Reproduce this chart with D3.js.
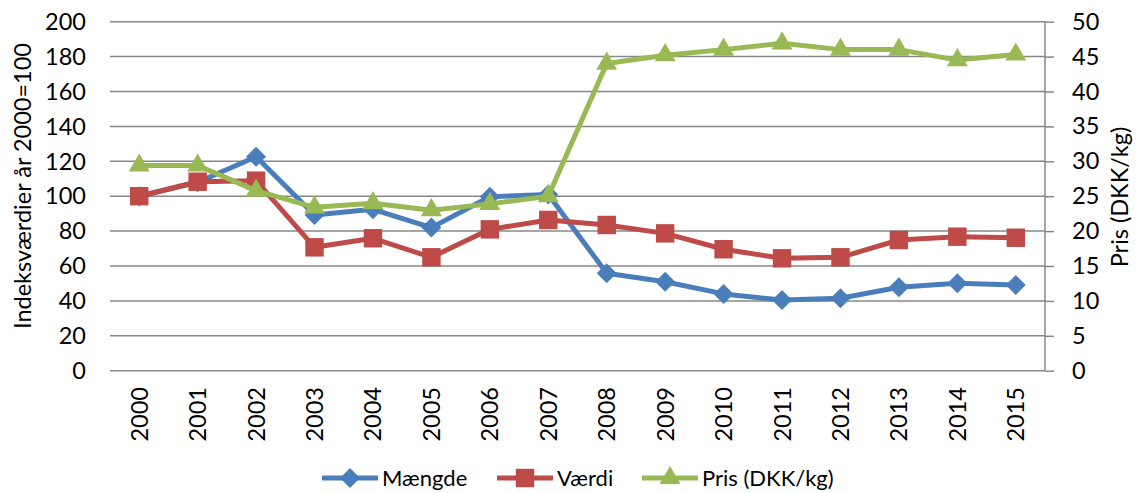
<!DOCTYPE html>
<html>
<head>
<meta charset="utf-8">
<script src="https://d3js.org/d3.v7.min.js"></script>
<style>
  body { margin: 0; background: #fff; }
  text { font-family: Lato, Carlito, Calibri, sans-serif; fill: #000; }
</style>
</head>
<body>
<svg id="chart" width="1137" height="493"></svg>
<script>
// data
const years = ["2000","2001","2002","2003","2004","2005","2006","2007","2008","2009","2010","2011","2012","2013","2014","2015"];
const maengde = [100, 108, 122.6, 89.2, 92.5, 82, 99.7, 101, 55.8, 51, 44, 40.5, 41.5, 47.8, 50.1, 49.1];
const vaerdi = [100, 108.3, 108.9, 70.7, 75.9, 65, 81, 86.4, 83.5, 78.7, 69.6, 64.4, 65, 74.9, 76.8, 76.2];
const pris = [29.4, 29.4, 25.8, 23.4, 24.0, 23.0, 23.9, 25.0, 44.0, 45.2, 46.0, 46.9, 46.0, 46.0, 44.5, 45.3];
const leftTicks = [0, 20, 40, 60, 80, 100, 120, 140, 160, 180, 200];
const rightTicks = [0, 5, 10, 15, 20, 25, 30, 35, 40, 45, 50];

const svg = d3.select("#chart");
const plotL = 110, plotR = 1045, plotT = 21.7, plotB = 370.7;
const fs = 23.5;

const x = d3.scaleBand().domain(years).range([plotL, plotR]);
const yL = d3.scaleLinear().domain([0, 200]).range([plotB, plotT]);
const yR = d3.scaleLinear().domain([0, 50]).range([plotB, plotT]);

// gridlines
svg.append("g").selectAll("line").data(leftTicks).enter().append("line")
    .attr("x1", plotL).attr("x2", plotR)
    .attr("y1", d => yL(d)).attr("y2", d => yL(d))
    .attr("stroke", "#878787").attr("stroke-width", 1.5);

// left tick labels
svg.append("g").selectAll("text").data(leftTicks).enter().append("text")
    .attr("x", 86).attr("y", d => yL(d)).attr("dy", "0.35em")
    .attr("text-anchor", "end").attr("font-size", fs)
    .text(d => d);

// right axis
const rAxis = svg.append("g").attr("transform", `translate(${plotR},0)`)
    .call(d3.axisRight(yR).tickValues(rightTicks).tickSize(9).tickPadding(18));
rAxis.select(".domain").attr("stroke", "#878787").attr("stroke-width", 1.5)
    .attr("d", `M0,${plotT}V${plotB}`);
rAxis.selectAll(".tick line").attr("stroke", "#878787").attr("stroke-width", 1.5);
rAxis.selectAll(".tick text").attr("font-size", fs).attr("fill", "#000")
    .style("font-family", "Lato, Carlito, Calibri, sans-serif");

// bottom axis labels
svg.append("g").selectAll("text").data(years).enter().append("text")
    .attr("transform", d => `translate(${x(d) + x.bandwidth() / 2},387) rotate(-90)`)
    .attr("dy", "0.36em").attr("text-anchor", "end").attr("font-size", fs)
    .text(d => d);

// axis titles
svg.append("text")
    .attr("transform", "translate(23,186) rotate(-90)")
    .attr("text-anchor", "middle").attr("dy", "0.35em").attr("font-size", fs)
    .text("Indeksværdier år 2000=100");
svg.append("text")
    .attr("transform", "translate(1120,197) rotate(-90)")
    .attr("text-anchor", "middle").attr("dy", "0.35em").attr("font-size", fs)
    .text("Pris (DKK/kg)");

const cx = d => x(d) + x.bandwidth() / 2;

const series = [
    { name: "Mængde", values: maengde, y: yL, color: "#4a7ebb", shape: d3.symbolSquare, size: 200, rot: 45 },
    { name: "Værdi", values: vaerdi, y: yL, color: "#be4b48", shape: d3.symbolSquare, size: 340, rot: 0 },
    { name: "Pris (DKK/kg)", values: pris, y: yR, color: "#98b954", shape: d3.symbolTriangle, size: 190, rot: 0 }
];

series.forEach(s => {
    const line = d3.line().x((d, i) => cx(years[i])).y(d => s.y(d));
    svg.append("path").datum(s.values)
        .attr("d", line).attr("fill", "none")
        .attr("stroke", s.color).attr("stroke-width", 5).attr("stroke-linejoin", "round");
    svg.append("g").selectAll("path").data(s.values).enter().append("path")
        .attr("d", d3.symbol().type(s.shape).size(s.size))
        .attr("transform", (d, i) => `translate(${cx(years[i])},${s.y(d)}) rotate(${s.rot})`)
        .attr("fill", s.color);
});

// legend
const legendX = [322, 497, 642];
series.forEach((s, i) => {
    const g = svg.append("g").attr("transform", `translate(${legendX[i]},478)`);
    g.append("line").attr("x1", 0).attr("x2", 56).attr("stroke", s.color).attr("stroke-width", 5);
    g.append("path").attr("d", d3.symbol().type(s.shape).size(s.size))
        .attr("transform", `translate(28,0) rotate(${s.rot})`)
        .attr("fill", s.color);
    g.append("text").attr("x", 60).attr("dy", "0.35em").attr("font-size", 22).text(s.name);
});
</script>
</body>
</html>
